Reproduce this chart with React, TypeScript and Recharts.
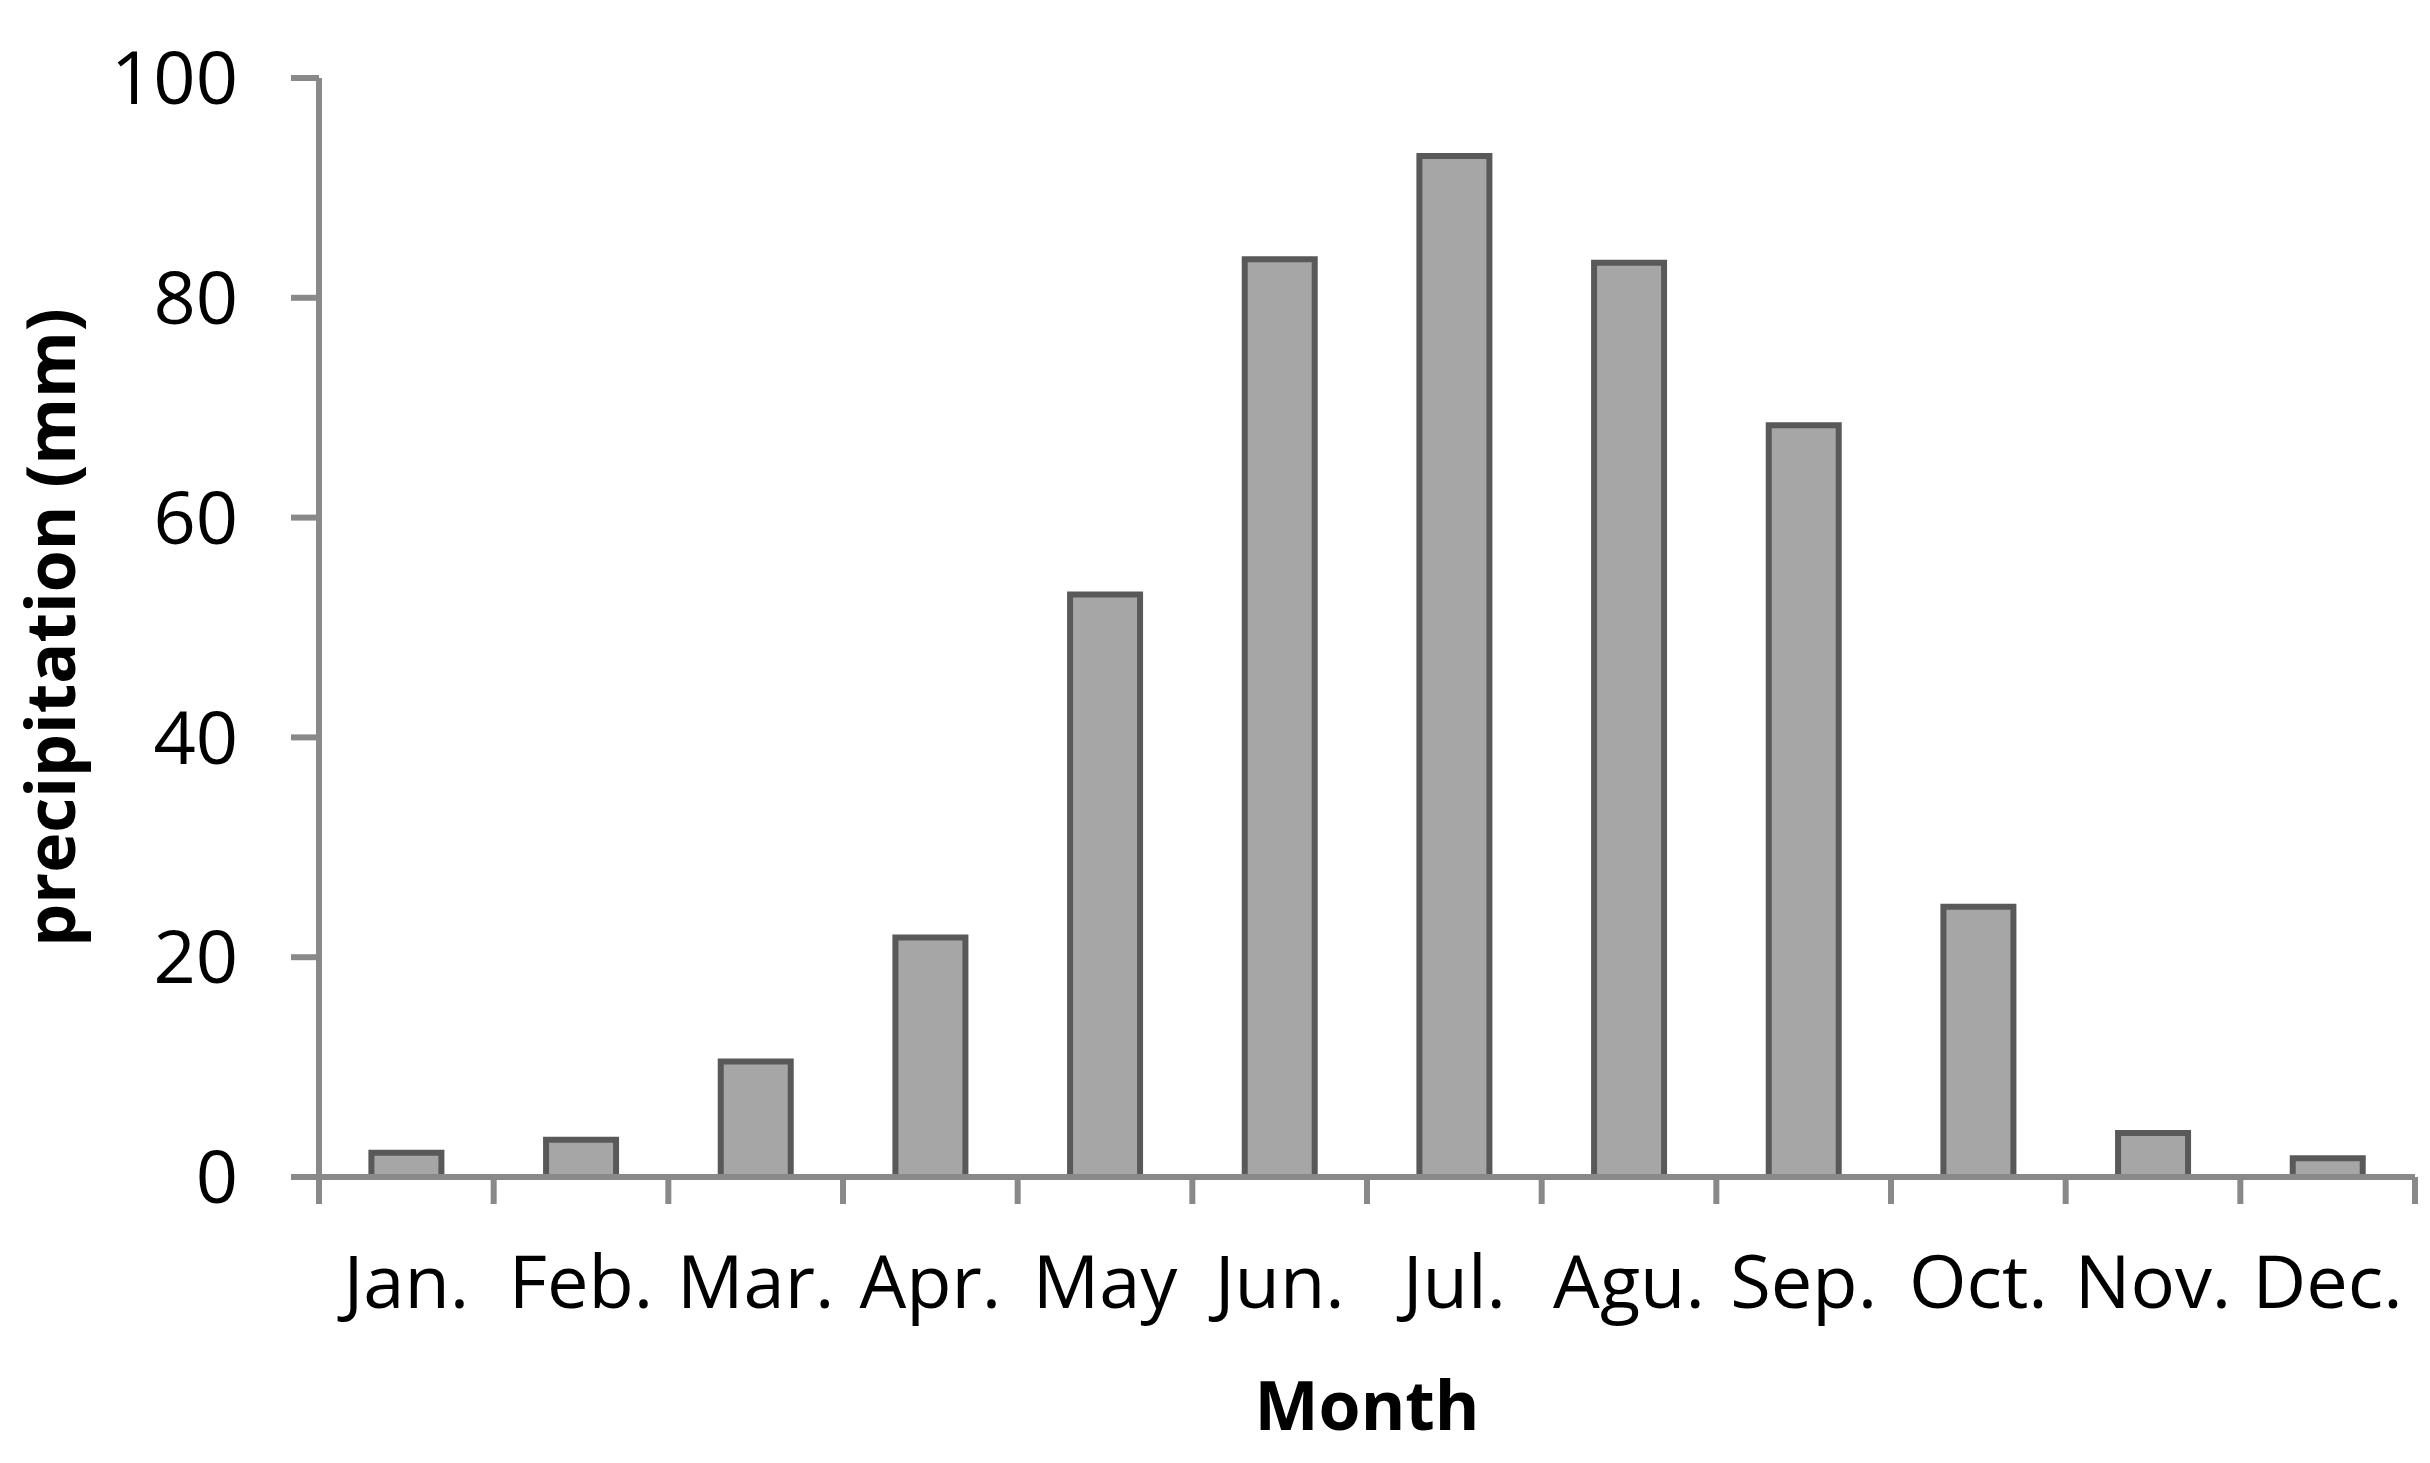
import { BarChart, Bar, XAxis, YAxis, Label } from "recharts";

const months = ["Jan.", "Feb.", "Mar.", "Apr.", "May", "Jun.", "Jul.", "Agu.", "Sep.", "Oct.", "Nov.", "Dec."];
const precipitation = [2.2, 3.4, 10.5, 21.8, 53.0, 83.5, 92.9, 83.2, 68.4, 24.6, 4.0, 1.7];
const yTicks = [0, 20, 40, 60, 80, 100];

const data = months.map((m, i) => ({ month: m, value: precipitation[i] }));

const FONT = "'Open Sans', sans-serif";
const AXIS = "#898989";
const X_TICK_SIZE = 27;
const X_TICK_MARGIN = 51;

// Excel puts the category ticks between the bars, so draw them at the band edges
function MonthTick(props: any) {
  const { x, y, payload, index, visibleTicksCount } = props;
  const half = payload.offset || 0;
  const y1 = y - X_TICK_MARGIN - X_TICK_SIZE;
  const y2 = y - X_TICK_MARGIN;
  return (
    <g>
      <line x1={x - half} x2={x - half} y1={y1} y2={y2} stroke={AXIS} strokeWidth={6} />
      {index === visibleTicksCount - 1 && (
        <line x1={x + half} x2={x + half} y1={y1} y2={y2} stroke={AXIS} strokeWidth={6} />
      )}
      <text x={x} y={y} dy="0.71em" textAnchor="middle" fill="#000" fontSize={74} fontFamily={FONT}>
        {payload.value}
      </text>
    </g>
  );
}

export default function App() {
  return (
    <div style={{ position: "absolute", left: 0, top: 0, background: "#fff" }}>
      <BarChart
        width={2430}
        height={1463}
        data={data}
        margin={{ top: 78, right: 15, bottom: 0, left: 0 }}
        barCategoryGap="30%"
      >
        <XAxis
          dataKey="month"
          height={286}
          axisLine={{ stroke: AXIS, strokeWidth: 6 }}
          tickLine={false}
          tickSize={X_TICK_SIZE}
          tickMargin={X_TICK_MARGIN}
          interval={0}
          tick={<MonthTick />}
        >
          <Label
            content={(props: any) => {
              const vb = props.viewBox;
              return (
                <text
                  x={vb.x + vb.width / 2}
                  y={vb.y + 253}
                  textAnchor="middle"
                  fontFamily={FONT}
                  fontWeight="bold"
                  fontSize={68}
                  fill="#000"
                >
                  Month
                </text>
              );
            }}
          />
        </XAxis>
        <YAxis
          width={319}
          domain={[0, 100]}
          ticks={yTicks}
          tickSize={28}
          tickMargin={53}
          axisLine={{ stroke: AXIS, strokeWidth: 6 }}
          tickLine={{ stroke: AXIS, strokeWidth: 6 }}
          tick={{ fill: "#000", fontSize: 74, fontFamily: FONT }}
        >
          <Label
            content={(props: any) => {
              const vb = props.viewBox;
              const cx = 75;
              const cy = vb.y + vb.height / 2;
              return (
                <text
                  x={cx}
                  y={cy}
                  textAnchor="middle"
                  transform={`rotate(-90, ${cx}, ${cy})`}
                  fontFamily={FONT}
                  fontWeight="bold"
                  fontSize={68}
                  fill="#000"
                >
                  precipitation (mm)
                </text>
              );
            }}
          />
        </YAxis>
        <Bar
          dataKey="value"
          fill="#a6a6a6"
          stroke="#595959"
          strokeWidth={6}
          isAnimationActive={false}
        />
      </BarChart>
    </div>
  );
}
